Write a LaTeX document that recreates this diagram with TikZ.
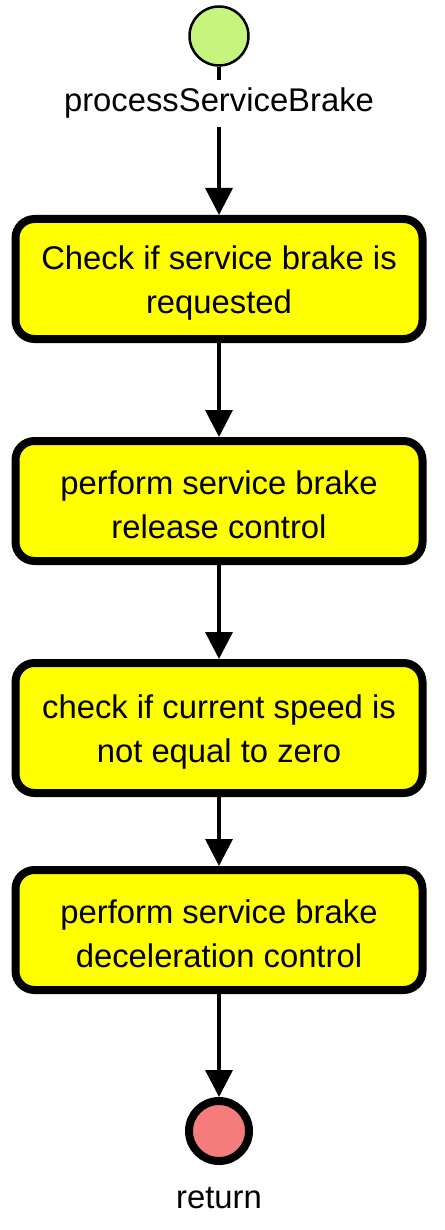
\documentclass[tikz,border=0pt]{standalone}
\usepackage{fontspec}
\setmainfont{Liberation Sans}
\usetikzlibrary{arrows.meta}
\definecolor{startgreen}{RGB}{197,245,125}
\definecolor{endred}{RGB}{244,124,124}
\definecolor{actyellow}{RGB}{255,255,0}

\begin{document}
\begin{tikzpicture}[x=1pt, y=-1pt,
    action/.style = {draw, line width=8pt, fill=actyellow, rounded corners=19pt, minimum width=407pt, align=center, inner sep=0pt, text height=76pt, font=\fontsize{32.8}{44}\selectfont},
    flow/.style = {line width=3.5pt, -{Triangle[length=27pt,width=27pt]}},
    caption/.style = {fill=white, inner sep=8pt, anchor=base, font=\fontsize{32.8}{44}\selectfont}]
    \useasboundingbox (0,0) rectangle (444,1230);

    % initial and final states
    \node (start) [circle, draw, line width=2.5pt, fill=startgreen, minimum size=59pt, inner sep=0pt] at (219,36) {};
    \node (return) [circle, draw, line width=8pt, fill=endred, minimum size=60pt, inner sep=0pt] at (219,1131) {};

    % actions
    \node (check)   [action, minimum height=120pt] at (219,279) {Check if service brake is\\requested};
    \node (release) [action, minimum height=120pt] at (219,501) {perform service brake\\release control};
    \node (speed)   [action, minimum height=130pt] at (219,728) {check if current speed is\\not equal to zero};
    \node (decel)   [action, minimum height=120pt] at (219,930) {perform service brake\\deceleration control};

    % control flow
    \draw[flow] (start) -- (check);
    \draw[flow] (check) -- (release);
    \draw[flow] (release) -- (speed);
    \draw[flow] (speed) -- (decel);
    \draw[flow] (decel) -- (return);

    \node (startname) [caption] at (219,112) {processServiceBrake};
    \node (returnname) [caption, fill=none] at (219,1208) {return};

\end{tikzpicture}
\end{document}
